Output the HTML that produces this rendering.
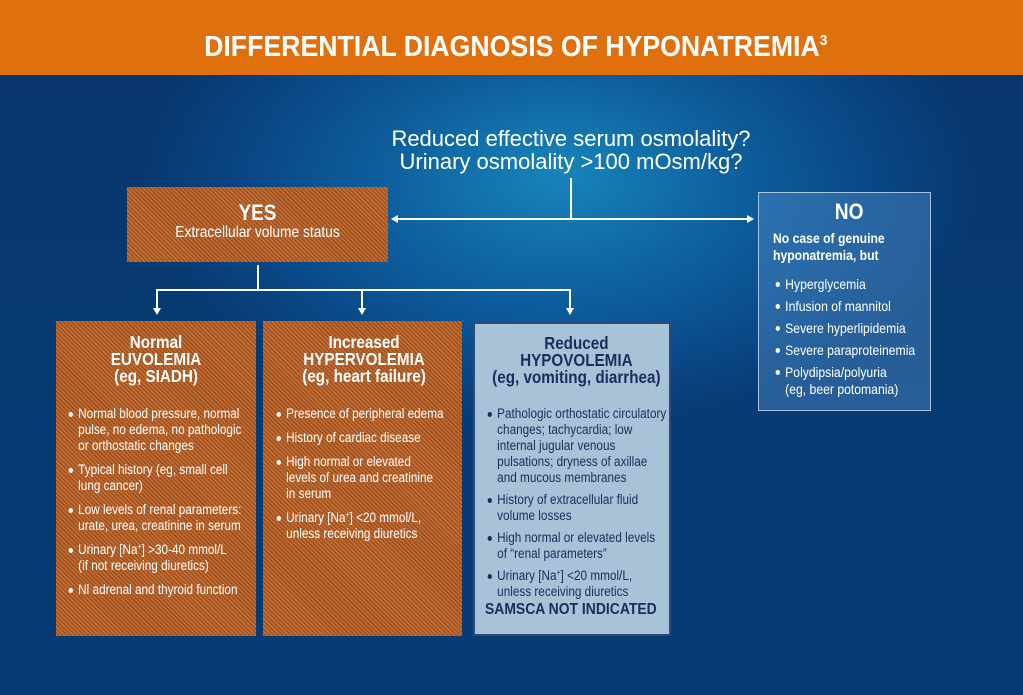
<!DOCTYPE html>
<html><head><meta charset="utf-8"><style>
*{margin:0;padding:0;box-sizing:border-box}
body{width:1023px;height:695px;overflow:hidden;position:relative;font-family:"Liberation Sans",sans-serif;color:#fff;
background:radial-gradient(ellipse 420px 260px at 560px 170px,#1a8fc4 0%,#0f67a6 40%,#0a4a8a 75%,#083a72 100%);}
.bg2{position:absolute;left:0;top:75px;width:1023px;height:620px;background:linear-gradient(180deg,rgba(5,30,80,0.15),rgba(5,40,100,0) 40%,rgba(10,60,130,0.2));}
.hdr{position:absolute;left:0;top:0;width:1023px;height:75px;background:#e06f0e;text-align:center}
.hdr span{display:inline-block;font:bold 29px/82px "Liberation Sans",sans-serif;transform:scaleX(0.92);white-space:nowrap;margin-left:8px}
.hdr sup{font-size:15px;vertical-align:11px}
.q{position:absolute;left:280px;width:582px;top:127px;text-align:center;font-size:22px;line-height:23px}
.hat{background:repeating-linear-gradient(45deg,#c56c30 0 1.5px,#9b5224 1.5px 3px);}
.box{position:absolute}
.sq{transform:scaleX(0.87);transform-origin:0 0}
.ln{position:absolute;background:#fff}
.ar{position:absolute;width:0;height:0;border-left:4px solid transparent;border-right:4px solid transparent;border-top:7px solid #fff}
.t{text-align:center;font-weight:bold;font-size:17.5px;line-height:17px}
ul{list-style:none;font-size:13.5px;line-height:16px}
li{position:relative;padding-left:14px;margin-bottom:8px}
li:before{content:"";position:absolute;left:3px;top:6px;width:5px;height:5px;border-radius:50%;background:currentColor}
.s{font-size:8px;position:relative;top:-5px;line-height:0}
</style></head><body>
<div class="bg2"></div>
<div class="hdr"><span>DIFFERENTIAL DIAGNOSIS OF HYPONATREMIA<sup>3</sup></span></div>
<div class="q">Reduced effective serum osmolality?<br>Urinary osmolality &gt;100 mOsm/kg?</div>

<div class="ln" style="left:570px;top:178px;width:1.5px;height:41px"></div>
<div class="ln" style="left:396px;top:218px;width:352px;height:1.5px"></div>
<div style="position:absolute;left:391px;top:215px;border-top:4px solid transparent;border-bottom:4px solid transparent;border-right:7px solid #fff"></div>
<div style="position:absolute;left:747px;top:215px;border-top:4px solid transparent;border-bottom:4px solid transparent;border-left:7px solid #fff"></div>

<div class="box hat" style="left:127px;top:187px;width:261px;height:75px;padding-top:15px">
<div class="t" style="font-size:22px;line-height:21px;transform:scaleX(0.86)">YES</div>
<div style="text-align:center;font-size:16px;line-height:19px;transform:scaleX(0.86)">Extracellular volume status</div></div>

<div class="ln" style="left:257px;top:265px;width:1.5px;height:25px"></div>
<div class="ln" style="left:156px;top:289px;width:415px;height:1.5px"></div>
<div class="ln" style="left:156px;top:289px;width:1.5px;height:20px"></div>
<div class="ln" style="left:361px;top:289px;width:1.5px;height:20px"></div>
<div class="ln" style="left:569px;top:289px;width:1.5px;height:20px"></div>
<div class="ar" style="left:153px;top:308px"></div>
<div class="ar" style="left:358px;top:308px"></div>
<div class="ar" style="left:566px;top:308px"></div>

<div class="box hat" style="left:56px;top:321px;width:200px;height:315px;padding:13px 0 0 10px">
<div class="sq" style="width:207px">
<div class="t">Normal<br>EUVOLEMIA<br>(eg, SIADH)</div>
<ul style="margin-top:21px">
<li>Normal blood pressure, normal pulse, no edema, no pathologic or orthostatic changes</li>
<li>Typical history (eg, small cell lung cancer)</li>
<li>Low levels of renal parameters: urate, urea, creatinine in serum</li>
<li>Urinary [Na<span class="s">+</span>] &gt;30-40 mmol/L<br>(if not receiving diuretics)</li>
<li>Nl adrenal and thyroid function</li></ul></div></div>

<div class="box hat" style="left:263px;top:321px;width:199px;height:315px;padding:13px 0 0 11px">
<div class="sq" style="width:207px">
<div class="t">Increased<br>HYPERVOLEMIA<br>(eg, heart failure)</div>
<ul style="margin-top:21px">
<li>Presence of peripheral edema</li>
<li>History of cardiac disease</li>
<li>High normal or elevated<br>levels of urea and creatinine<br>in serum</li>
<li>Urinary [Na<span class="s">+</span>] &lt;20 mmol/L,<br>unless receiving diuretics</li></ul></div></div>

<div class="box" style="left:473px;top:322px;width:198px;height:314px;background:#a8c2d8;border:2px solid #2b4a78;color:#1b2d5c;padding:11px 0 0 10px">
<div class="sq" style="width:210px">
<div class="t">Reduced<br>HYPOVOLEMIA<br>(eg, vomiting, diarrhea)</div>
<ul style="margin-top:20px">
<li style="margin-bottom:6px">Pathologic orthostatic circulatory changes; tachycardia; low internal jugular venous pulsations; dryness of axillae and mucous membranes</li>
<li style="margin-bottom:6px">History of extracellular fluid volume losses</li>
<li style="margin-bottom:6px">High normal or elevated levels of “renal parameters”</li>
<li style="margin-bottom:0">Urinary [Na<span class="s">+</span>] &lt;20 mmol/L, unless receiving diuretics</li></ul>
<div style="font-weight:bold;font-size:16px;line-height:20px;white-space:nowrap">SAMSCA NOT INDICATED</div></div></div>

<div class="box" style="left:758px;top:192px;width:173px;height:219px;background:rgba(80,140,200,0.45);border:1.5px solid rgba(200,220,240,0.8);padding:8px 0 0 14px">
<div class="sq" style="width:185px">
<div class="t" style="font-size:22px;line-height:22px;margin-left:-10px">NO</div>
<div style="font-weight:bold;font-size:14px;line-height:17px;margin-top:7px">No case of genuine<br>hyponatremia, but</div>
<ul style="margin-top:12px;font-size:14px;line-height:17px">
<li style="margin-bottom:5px">Hyperglycemia</li><li style="margin-bottom:5px">Infusion of mannitol</li><li style="margin-bottom:5px">Severe hyperlipidemia</li><li style="margin-bottom:5px">Severe paraproteinemia</li><li>Polydipsia/polyuria<br>(eg, beer potomania)</li></ul></div></div>
</body></html>
